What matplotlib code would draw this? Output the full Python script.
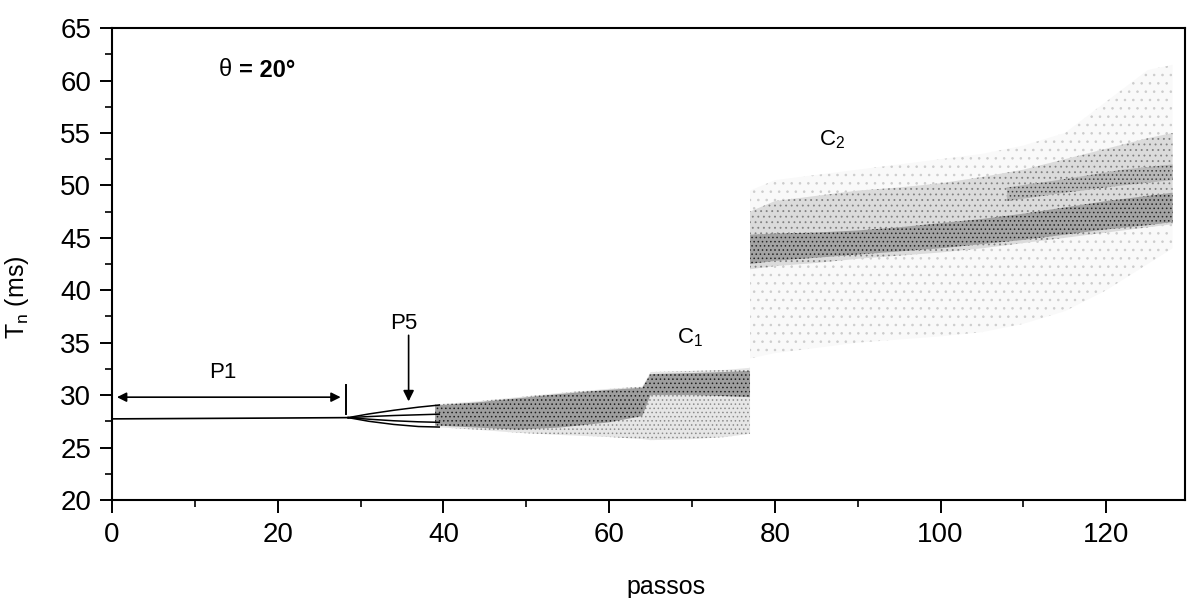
import matplotlib.pyplot as plt

plt.rcParams['font.family'] = ['Liberation Sans', 'DejaVu Sans']
plt.rcParams['mathtext.fontset'] = 'custom'
plt.rcParams['mathtext.rm'] = 'Liberation Sans'
plt.rcParams['hatch.linewidth'] = 0.6

# period-1 branch (single line)
p1_x = [0, 10, 20, 28.5]
p1_y = [27.73, 27.77, 27.81, 27.85]

# P5 branch: four thin lines opening up
p5_x = [28.5, 31, 34, 37, 39.5]
p5_top = [27.85, 28.2, 28.55, 28.85, 29.05]
p5_mid_hi = [27.85, 27.95, 28.05, 28.12, 28.18]
p5_mid_lo = [27.85, 27.7, 27.55, 27.45, 27.4]
p5_bot = [27.85, 27.5, 27.2, 27.0, 26.95]

# chaotic band C1 (envelope + dense core)
c1_x = [39, 44, 49, 54, 60, 64, 65, 70, 74, 77]
c1_lo = [26.95, 26.7, 26.4, 26.2, 26.0, 25.8, 25.7, 25.8, 26.0, 26.3]
c1_hi = [29.1, 29.4, 29.8, 30.2, 30.6, 30.8, 32.2, 32.3, 32.4, 32.6]
c1_core_lo = [27.1, 26.9, 26.7, 26.9, 27.4, 28.0, 30.0, 30.0, 29.9, 29.8]
c1_core_hi = [29.0, 29.3, 29.7, 30.1, 30.5, 30.7, 32.0, 32.1, 32.2, 32.3]

# chaotic band C2 (sparse halo, medium band, dense core, upper streak)
c2_x = [77, 80, 85, 90, 95, 100, 105, 110, 115, 120, 125, 128]
c2_lo = [33.5, 34.0, 34.5, 35.0, 35.3, 35.6, 36.0, 36.8, 38.0, 40.0, 42.5, 44.0]
c2_hi = [49.5, 50.5, 51.0, 51.5, 52.0, 52.5, 53.0, 53.8, 55.0, 58.0, 61.0, 61.5]
c2_med_lo = [42.0, 42.3, 42.6, 43.0, 43.3, 43.6, 44.0, 44.5, 45.0, 45.5, 46.0, 46.3]
c2_med_hi = [47.5, 48.5, 49.0, 49.5, 49.8, 50.2, 50.8, 51.5, 52.5, 53.5, 54.5, 55.0]
c2_core_lo = [42.5, 42.8, 43.1, 43.4, 43.7, 44.0, 44.4, 44.8, 45.3, 45.8, 46.2, 46.5]
c2_core_hi = [45.3, 45.4, 45.5, 45.7, 46.0, 46.4, 46.8, 47.3, 47.9, 48.5, 49.0, 49.3]
streak_x = [108, 115, 122, 128]
streak_lo = [48.5, 49.3, 50.0, 50.5]
streak_hi = [49.8, 50.6, 51.5, 52.0]

# annotations
p1_arrow_x = [0.6, 27.6]
p1_arrow_y = 29.8
p1_bar_x = 28.3
p1_bar_y = [28.2, 31.0]
p5_arrow_x = 35.8
p5_arrow_y = [35.7, 29.4]

x_ticks = [0, 20, 40, 60, 80, 100, 120]
y_ticks = [20, 25, 30, 35, 40, 45, 50, 55, 60, 65]

fig = plt.figure(figsize=(11.91, 5.98), dpi=100)
ax = fig.add_axes([0.094, 0.164, 0.901, 0.789])


def band(x, lo, hi, face, dots, hatch):
    ax.fill_between(x, lo, hi, facecolor=face, edgecolor=dots,
                    linewidth=0, hatch=hatch)


band(c1_x, c1_lo, c1_hi, '0.9', '0.55', '....')
band(c1_x, c1_core_lo, c1_core_hi, '0.62', '0.12', '....')
band(c2_x, c2_lo, c2_hi, '0.975', '0.8', '..')
band(c2_x, c2_med_lo, c2_med_hi, '0.86', '0.5', '...')
band(c2_x, c2_core_lo, c2_core_hi, '0.64', '0.15', '....')
band(streak_x, streak_lo, streak_hi, '0.72', '0.25', '....')

ax.plot(p1_x, p1_y, color='k', lw=1.2)
for ys in (p5_top, p5_mid_hi, p5_mid_lo, p5_bot):
    ax.plot(p5_x, ys, color='k', lw=1.1)

# P1 double arrow and end mark
ax.annotate('', xy=(p1_arrow_x[0], p1_arrow_y), xytext=(p1_arrow_x[1], p1_arrow_y),
            arrowprops=dict(arrowstyle='<|-|>', color='k', lw=1.2,
                            mutation_scale=14, shrinkA=0, shrinkB=0))
ax.plot([p1_bar_x, p1_bar_x], p1_bar_y, color='k', lw=1.4)
# P5 arrow
ax.annotate('', xy=(p5_arrow_x, p5_arrow_y[1]), xytext=(p5_arrow_x, p5_arrow_y[0]),
            arrowprops=dict(arrowstyle='-|>', color='k', lw=1.2,
                            mutation_scale=16, shrinkA=0, shrinkB=0))

ax.text(13.4, 32.2, 'P1', fontsize=16, ha='center', va='center')
ax.text(35.2, 36.8, 'P5', fontsize=16, ha='center', va='center')
ax.text(69.8, 35.5, r'C$_\mathregular{1}$', fontsize=16, ha='center', va='center')
ax.text(86.9, 54.4, r'C$_\mathregular{2}$', fontsize=16, ha='center', va='center')
ax.text(12.9, 61.0, 'θ', fontsize=17, va='center')
ax.text(15.3, 61.0, '= 20°', fontsize=17, fontweight='bold', va='center')

ax.set_xlim(0, 129.5)
ax.set_ylim(20, 65)
ax.set_xticks(x_ticks)
ax.set_yticks(y_ticks)
ax.set_xticks([10, 30, 50, 70, 90, 110], minor=True)
ax.set_yticks([22.5, 27.5, 32.5, 37.5, 42.5, 47.5, 52.5, 57.5, 62.5], minor=True)
ax.tick_params(axis='x', which='major', direction='out', length=9, width=1.4,
               labelsize=20, pad=7)
ax.tick_params(axis='y', which='major', direction='out', length=9, width=1.4,
               labelsize=20, pad=6)
ax.tick_params(which='minor', direction='out', length=5, width=1.2)
for s in ax.spines.values():
    s.set_linewidth(1.5)

ax.set_xlabel('passos', fontsize=18)
ax.set_ylabel(r'T$_\mathregular{n}$ (ms)', fontsize=18)
ax.xaxis.set_label_coords(0.516, -0.16)
ax.yaxis.set_label_coords(-0.075, 0.43)

fig.savefig('out.png', dpi=100)
